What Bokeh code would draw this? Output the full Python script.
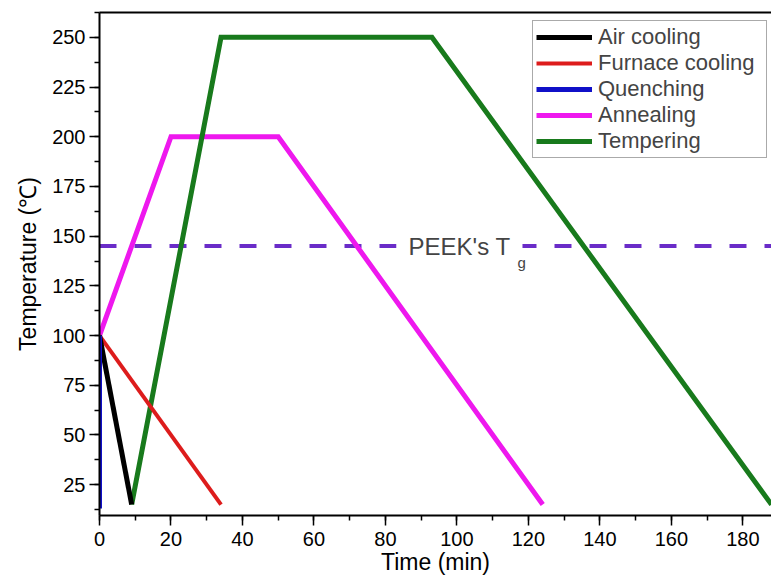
from bokeh.plotting import figure
from bokeh.models import (Range1d, LinearAxis, SingleIntervalTicker, FixedTicker,
                          Legend, LegendItem, Label)
from bokeh.embed import file_html
from bokeh.resources import INLINE

# ---- data ----
air_t = [0, 9]
air_T = [100, 15]

furnace_t = [0, 34]
furnace_T = [100, 15]

quench_t = [0, 0]
quench_T = [100, 13]

anneal_t = [0, 20, 50, 124]
anneal_T = [100, 200, 200, 15]

temper_t = [9, 34, 93, 188]
temper_T = [15, 250, 250, 15]

tg_t = [0, 188]
tg_T = [145, 145]
tg_label_t = 83.1

FONT = "Liberation Sans"

p = figure(width=771, height=582, output_backend="svg", toolbar_location=None,
           x_range=Range1d(0, 188), y_range=Range1d(9.5, 262.5),
           min_border_left=99, min_border_right=0, min_border_top=12,
           min_border_bottom=67)
p.grid.visible = False
p.outline_line_color = None
p.background_fill_color = "white"

# Tg reference line
p.line(tg_t, tg_T, line_color="#6a2cc8", line_width=4, line_dash="17 18")

r_anneal = p.line(anneal_t, anneal_T, line_color="#ee18ee", line_width=5, line_join="miter")
r_temper = p.line(temper_t, temper_T, line_color="#187a1c", line_width=5, line_join="miter")
r_furnace = p.line(furnace_t, furnace_T, line_color="#dd1c1c", line_width=4)
r_air = p.line(air_t, air_T, line_color="#000000", line_width=5)
r_quench = p.line(quench_t, quench_T, line_color="#1010c8", line_width=5)

legend = Legend(items=[
    LegendItem(label="Air cooling", renderers=[r_air]),
    LegendItem(label="Furnace cooling", renderers=[r_furnace]),
    LegendItem(label="Quenching", renderers=[r_quench]),
    LegendItem(label="Annealing", renderers=[r_anneal]),
    LegendItem(label="Tempering", renderers=[r_temper]),
], location=(433, 357), label_text_font=FONT, label_text_font_size="22px",
    glyph_width=56, glyph_height=22, label_height=22, label_width=165,
    label_standoff=6, spacing=0, padding=3, margin=0,
    border_line_color="#555555", border_line_width=1,
    background_fill_color="white", background_fill_alpha=1)
p.add_layout(legend)

# axes
for ax in (p.xaxis[0], p.yaxis[0]):
    ax.axis_line_width = 2
    ax.axis_line_color = "black"
    ax.major_tick_line_width = 1.5
    ax.minor_tick_line_width = 1.5
    ax.major_tick_in = 0
    ax.minor_tick_in = 0
    ax.major_tick_out = 10
    ax.minor_tick_out = 5
    ax.major_label_text_font = FONT
    ax.major_label_text_font_size = "20px"
    ax.major_label_text_color = "black"
    ax.axis_label_text_font = FONT
    ax.axis_label_text_font_size = "23px"
    ax.axis_label_text_font_style = "normal"
    ax.axis_label_text_color = "black"

p.xaxis.ticker = SingleIntervalTicker(interval=20, num_minor_ticks=2)
p.yaxis.ticker = SingleIntervalTicker(interval=25, num_minor_ticks=2)
p.xaxis.axis_label = "Time (min)"
p.yaxis.axis_label = "Temperature (℃)"
p.xaxis.major_label_standoff = 6
p.xaxis.axis_label_standoff = 0
p.yaxis.major_label_standoff = 4
p.yaxis.axis_label_standoff = 8

top = LinearAxis(ticker=FixedTicker(ticks=[]), major_tick_out=0, minor_tick_out=0,
                 major_tick_in=0, minor_tick_in=0, major_label_text_font_size="0px",
                 axis_line_width=2, axis_line_color="black")
p.add_layout(top, "above")

lab = Label(x=tg_label_t, y=tg_T[0], text="PEEK's T", text_font=FONT,
            text_font_size="24px", text_baseline="middle", text_align="left",
            background_fill_color="white", padding=12)
sub = Label(x=tg_label_t, y=tg_T[0], x_offset=117, y_offset=-16, text="g",
            text_font=FONT, text_font_size="15px", text_baseline="middle",
            text_align="left", background_fill_color="white", padding=4)
p.add_layout(lab)
p.add_layout(sub)

open("out.html", "w").write(file_html(p, INLINE))
